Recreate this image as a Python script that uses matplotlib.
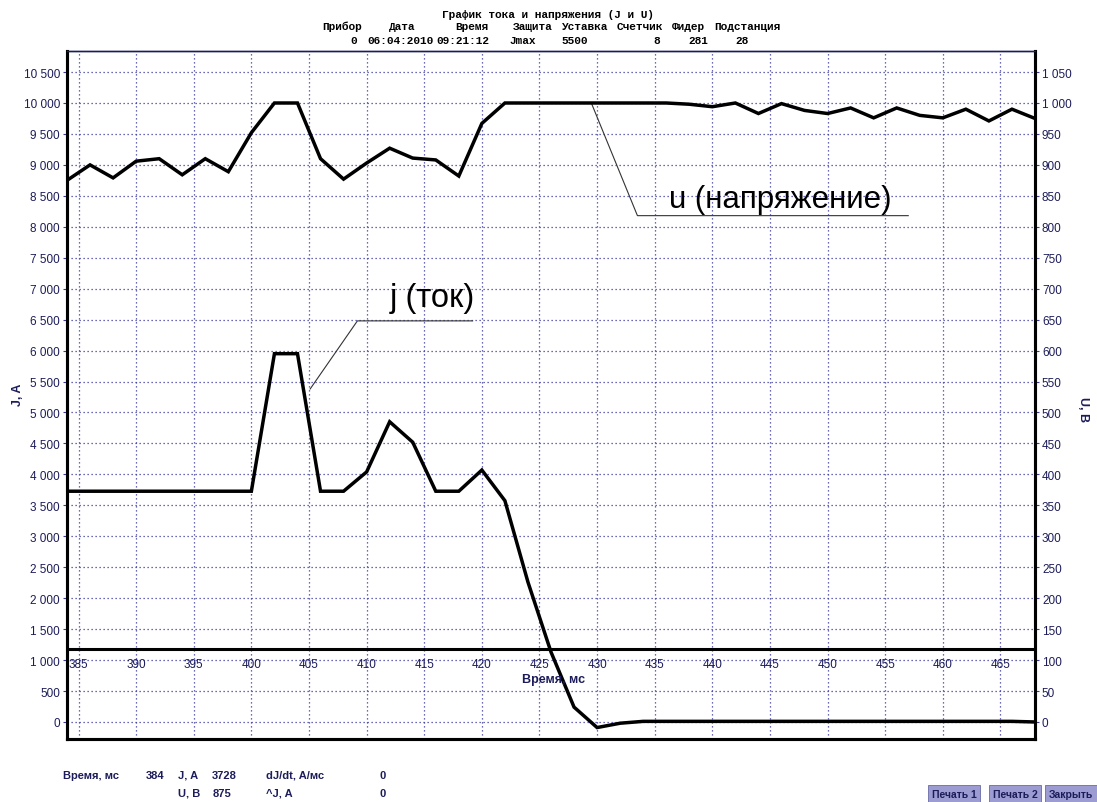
import numpy as np
import matplotlib.pyplot as plt
from matplotlib.ticker import FuncFormatter

# Время, мс (отсчёты через 2 мс)
t = list(range(384, 469, 2))

# Ток J, A
j_vals = [3728, 3728, 3728, 3728, 3728, 3728, 3728, 3728,
          3728, 5950, 5950, 3728, 3728, 4040, 4850, 4520,
          3728, 3728, 4070, 3575, 2260, 1130, 240, -90,
          -20, 10, 10, 10, 10, 10, 10, 10, 10, 10,
          10, 10, 10, 10, 10, 10, 10, 10, 0]

# Напряжение U, B
u_vals = [875, 900, 879, 906, 910, 884, 910, 889,
          952, 1000, 1000, 910, 877, 903, 927, 911,
          908, 882, 967, 1000, 1000, 1000, 1000, 1000,
          1000, 1000, 1000, 998, 994, 1000, 983, 999,
          988, 983, 992, 976, 992, 980, 976, 990,
          971, 990, 975]

x_ticks = list(range(385, 466, 5))
j_ticks = list(range(0, 10501, 500))
u_ticks = list(range(0, 1051, 50))
j_level = 1180

header_cols = ["Прибор", "Дата", "Время", "Защита", "Уставка", "Счетчик", "Фидер", "Подстанция"]
header_vals = ["0", "06:04:2010", "09:21:12", "Jmax", "5500", "8", "281", "28"]
header_cols_x = [342, 402, 472, 533, 585, 640, 688, 747]
header_vals_x = [354, 400, 463, 523, 575, 657, 698, 742]

navy = "#1c1c5a"
grid_c = "#3a3aa0"
sans = ["Liberation Sans", "DejaVu Sans"]
mono = ["Liberation Mono", "DejaVu Sans Mono"]

W, H = 1097, 803
fig = plt.figure(figsize=(W / 100, H / 100), dpi=100)
ax = fig.add_axes([67 / W, 1 - 740 / H, (1035 - 67) / W, (740 - 52) / H])
ax2 = ax.twinx()

ax.plot(t, j_vals, color="black", lw=2.5, solid_joinstyle="miter", zorder=4)
ax2.plot(t, u_vals, color="black", lw=2.5, solid_joinstyle="miter", zorder=4)
ax.axhline(j_level, color="black", lw=2.2, zorder=3)

ax.set_xlim(384, 468)
ax.set_ylim(-275, 10840)
ax2.set_ylim(-27.5, 1084)

ax.set_xticks(x_ticks)
ax.set_yticks(j_ticks)
ax2.set_yticks(u_ticks)
ax.grid(True, color=grid_c, lw=0.9, ls=(0, (1, 2.2)))
ax.tick_params(axis="x", length=0, labelbottom=False)
ax.tick_params(axis="y", length=3, color=grid_c, pad=2, labelsize=8.5, labelcolor=navy)
ax2.tick_params(axis="y", length=3, color=grid_c, pad=2, labelsize=8.5, labelcolor=navy)

space_fmt = FuncFormatter(lambda v, p: f"{int(v):,}".replace(",", " "))
ax.yaxis.set_major_formatter(space_fmt)
ax2.yaxis.set_major_formatter(space_fmt)
for lab in ax.get_yticklabels() + ax2.get_yticklabels():
    lab.set_family(sans)

for a in (ax, ax2):
    for side in ("left", "right", "bottom"):
        a.spines[side].set_linewidth(2.2)
        a.spines[side].set_color("black")
    a.spines["top"].set_linewidth(1.0)
    a.spines["top"].set_color(navy)

# подписи оси времени внутри поля графика
for xt in x_ticks:
    ax.text(xt, 935, str(xt), ha="center", va="center", fontsize=8.5,
            family=sans, color=navy, zorder=5)
ax.text(426.2, 690, "Время, мс", ha="center", va="center", fontsize=9,
        family=sans, fontweight="bold", color=navy, zorder=5)

fig.text(18 / W, 1 - 395 / H, "J, A", rotation=90, ha="center", va="center",
         fontsize=9, family=sans, fontweight="bold", color=navy)
fig.text(1083 / W, 1 - 410 / H, "U, B", rotation=-90, ha="center", va="center",
         fontsize=9, family=sans, fontweight="bold", color=navy)

# выноски
ax2.plot([429.5, 433.5, 457.0], [1000, 818, 818], color="#333333", lw=0.8, zorder=3)
ax2.text(436.2, 845, "u (напряжение)", fontsize=22.5, family=sans,
         ha="left", va="center", color="black")
ax.plot([405.1, 409.2, 419.2], [5380, 6480, 6480], color="#333333", lw=0.8, zorder=3)
ax.text(412.0, 6850, "j (ток)", fontsize=23.5, family=sans,
        ha="left", va="center", color="black")

# заголовок
fig.text(548 / W, 1 - 15 / H, "График тока и напряжения (J и U)", ha="center", va="center",
         fontsize=8, family=mono, fontweight="bold", color="black")
for name, x in zip(header_cols, header_cols_x):
    fig.text(x / W, 1 - 27 / H, name, ha="center", va="center", fontsize=8,
             family=mono, fontweight="bold", color="black")
for val, x in zip(header_vals, header_vals_x):
    fig.text(x / W, 1 - 41 / H, val, ha="center", va="center", fontsize=8,
             family=mono, fontweight="bold", color="black")

# строка состояния
status = [("Время, мс", 63, 776), ("384", 146, 776), ("J, A", 178, 776), ("3728", 212, 776),
          ("dJ/dt, A/мс", 266, 776), ("0", 379, 776),
          ("U, B", 178, 794), ("875", 213, 794), ("^J, A", 266, 794), ("0", 379, 794)]
for txt, x, y in status:
    fig.text(x / W, 1 - y / H, txt, ha="left", va="center", fontsize=8,
             family=sans, fontweight="bold", color=navy)

for txt, x in [("Печать 1", 954), ("Печать 2", 1015), ("Закрыть", 1071)]:
    fig.text(x / W, 1 - 795 / H, txt, ha="center", va="center", fontsize=7.5,
             family=sans, fontweight="bold", color=navy,
             bbox=dict(boxstyle="square,pad=0.35", fc="#9c9cd2", ec="#6a6aa8", lw=0.6))

fig.savefig("out.png", dpi=100)
